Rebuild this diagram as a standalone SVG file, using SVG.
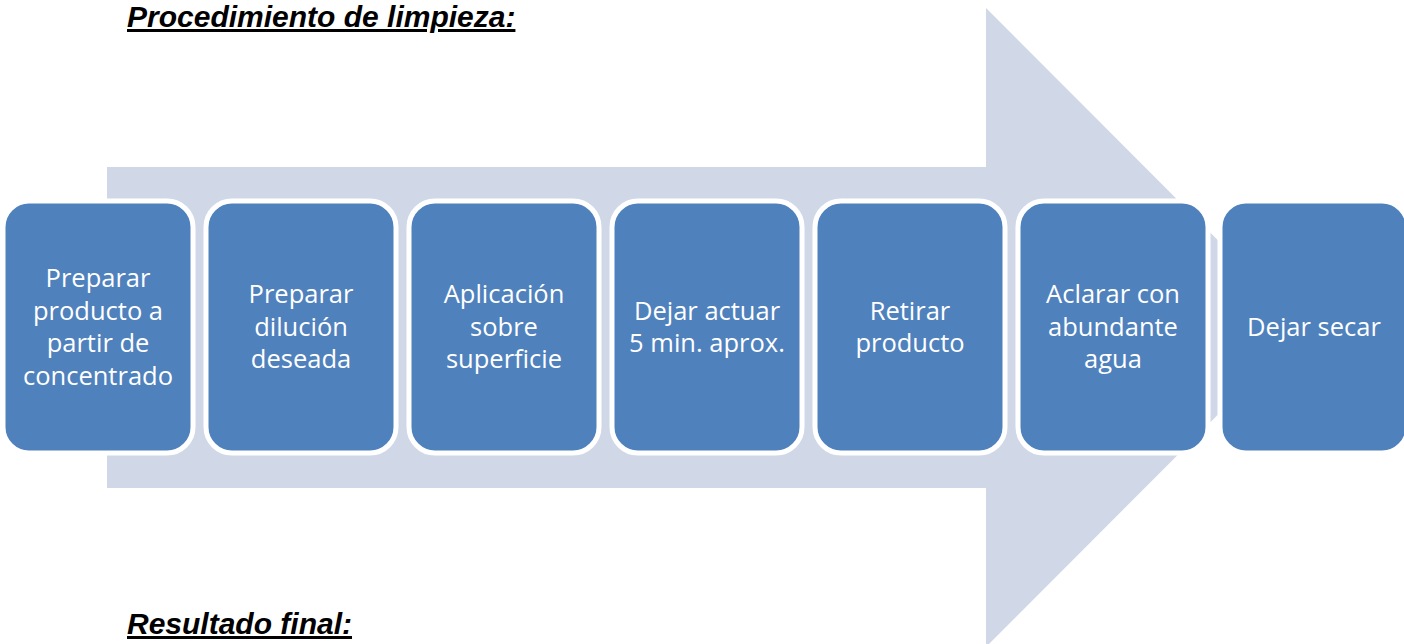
<svg xmlns="http://www.w3.org/2000/svg" width="1404" height="644" viewBox="0 0 1404 644">
<style>
.title{font-family:"Liberation Sans",Arial,sans-serif;font-size:30px;font-weight:bold;font-style:italic;text-decoration:underline;fill:#000}
.box{fill:#4F81BD;stroke:#fff;stroke-width:5}
.lbl{font-family:"Open Sans","Noto Sans",sans-serif;font-size:25.5px;fill:#fff;text-anchor:middle}
</style>
<rect width="1404" height="644" fill="#fff"/>
<g id="arrow">
<polygon points="107,167 986,167 986,8 1305,327.5 986,647 986,488 107,488" fill="#D0D8E8"/>
</g>
<text class="title" x="127" y="27">Procedimiento de limpieza:</text>
<text class="title" x="127" y="634">Resultado final:</text>
<g id="connectors"></g>
<g id="n1"><rect class="box" x="3" y="201" width="190" height="252" rx="26"/>
<text class="lbl" x="98" y="287">Preparar</text><text class="lbl" x="98" y="319.5">producto a</text><text class="lbl" x="98" y="352">partir de</text><text class="lbl" x="98" y="384.5">concentrado</text></g>
<g id="n2"><rect class="box" x="206" y="201" width="190" height="252" rx="26"/>
<text class="lbl" x="301" y="303">Preparar</text><text class="lbl" x="301" y="335.5">dilución</text><text class="lbl" x="301" y="368">deseada</text></g>
<g id="n3"><rect class="box" x="409" y="201" width="190" height="252" rx="26"/>
<text class="lbl" x="504" y="303">Aplicación</text><text class="lbl" x="504" y="335.5">sobre</text><text class="lbl" x="504" y="368">superficie</text></g>
<g id="n4"><rect class="box" x="612" y="201" width="190" height="252" rx="26"/>
<text class="lbl" x="707" y="319.5">Dejar actuar</text><text class="lbl" x="707" y="352">5 min. aprox.</text></g>
<g id="n5"><rect class="box" x="815" y="201" width="190" height="252" rx="26"/>
<text class="lbl" x="910" y="319.5">Retirar</text><text class="lbl" x="910" y="352">producto</text></g>
<g id="n6"><rect class="box" x="1018" y="201" width="190" height="252" rx="26"/>
<text class="lbl" x="1113" y="303">Aclarar con</text><text class="lbl" x="1113" y="335.5">abundante</text><text class="lbl" x="1113" y="368">agua</text></g>
<g id="n7"><rect class="box" x="1220" y="201" width="188" height="252" rx="26"/>
<text class="lbl" x="1314" y="335.5">Dejar secar</text></g>
</svg>
